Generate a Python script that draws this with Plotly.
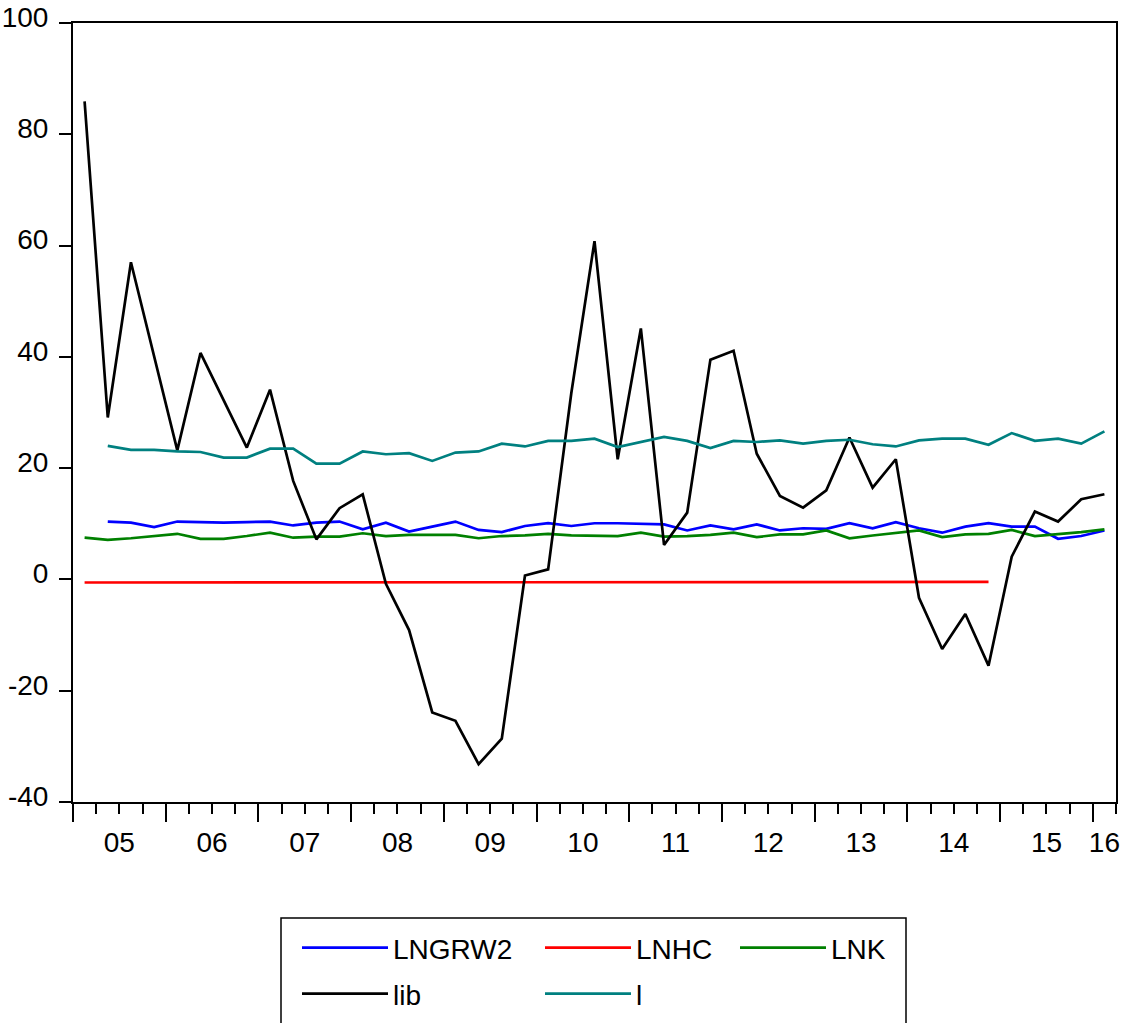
import plotly.graph_objects as go

# ---- data (quarterly, 2005Q1 .. 2016Q1) ----
years = [2005, 2006, 2007, 2008, 2009, 2010, 2011, 2012, 2013, 2014, 2015, 2016]
year_labels = ["05", "06", "07", "08", "09", "10", "11", "12", "13", "14", "15", "16"]
periods = [f"{y}Q{q}" for y in years for q in (1, 2, 3, 4)][:45]

lngrw2 = [None, 10.4, 10.2, 9.4, 10.4, 10.3, 10.2, 10.3, 10.4, 9.7, 10.2, 10.4, 9.0, 10.2, 8.6,
          9.5, 10.4, 8.9, 8.5, 9.6, 10.1, 9.6, 10.1, 10.1, 10.0, 9.9, 8.8, 9.7, 9.0, 9.9, 8.8,
          9.2, 9.1, 10.1, 9.2, 10.3, 9.2, 8.4, 9.5, 10.1, 9.5, 9.5, 7.3, 7.8, 8.8]
lnhc = [-0.55, -0.55, -0.55, -0.55, -0.55, -0.55, -0.55, -0.55, -0.55, -0.55, -0.55, -0.55,
        -0.55, -0.55, -0.5, -0.5, -0.5, -0.5, -0.5, -0.5, -0.5, -0.5, -0.5, -0.5, -0.5, -0.5,
        -0.5, -0.5, -0.5, -0.5, -0.5, -0.5, -0.5, -0.45, -0.45, -0.45, -0.45, -0.45, -0.45,
        -0.45, None, None, None, None, None]
lnk = [7.5, 7.1, 7.4, 7.8, 8.2, 7.3, 7.3, 7.8, 8.4, 7.5, 7.7, 7.7, 8.3, 7.8, 8.0, 8.0, 8.0,
       7.4, 7.8, 7.9, 8.2, 7.9, 7.9, 7.8, 8.4, 7.7, 7.8, 8.0, 8.4, 7.6, 8.1, 8.1, 8.8, 7.4,
       7.9, 8.4, 8.8, 7.6, 8.1, 8.2, 8.9, 7.8, 8.1, 8.5, 9.0]
lib = [85.9, 29.1, 57.0, 40.0, 23.2, 40.7, 32.2, 23.7, 34.1, 17.7, 7.2, 12.8, 15.3, -0.8,
       -9.1, -23.9, -25.4, -33.2, -28.6, 0.7, 1.8, 33.5, 60.8, 21.6, 45.1, 6.2, 12.0, 39.5,
       41.1, 22.6, 15.0, 12.9, 16.0, 25.5, 16.5, 21.6, -3.3, -12.5, -6.2, -15.5, 4.1, 12.2,
       10.4, 14.4, 15.3]
l_series = [None, 24.0, 23.3, 23.3, 23.0, 22.9, 21.9, 21.9, 23.5, 23.5, 20.8, 20.8, 23.0,
            22.5, 22.7, 21.3, 22.8, 23.0, 24.4, 23.9, 24.9, 24.9, 25.3, 23.8, 24.7, 25.6,
            24.9, 23.6, 24.9, 24.7, 25.0, 24.4, 24.9, 25.1, 24.3, 23.9, 25.0, 25.3, 25.3,
            24.2, 26.3, 24.9, 25.3, 24.4, 26.6]
y_ticks = [-40, -20, 0, 20, 40, 60, 80, 100]
y_tick_labels = ["-40", "-20", "0", "20", "40", "60", "80", "100"]

series = [
    ("LNGRW2", lngrw2, "#0000FF", "legend"),
    ("LNHC", lnhc, "#FF0000", "legend2"),
    ("LNK", lnk, "#008000", "legend3"),
    ("lib", lib, "#000000", "legend4"),
    ("l", l_series, "#008080", "legend5"),
]

# ---- positions derived from the period list ----
n = len(periods)
x = list(range(n))
q_bounds = [i - 0.5 for i in range(n + 1)]
year_bounds = [i - 0.5 for i, p in enumerate(periods) if p.endswith("Q1")]
label_pos = []
for yr in years:
    idx = [i for i, p in enumerate(periods) if p.startswith(str(yr))]
    label_pos.append((min(idx) + max(idx)) / 2)

FONT = "Liberation Sans, Arial"
FS = 28

fig = go.Figure()
for name, vals, color, lg in series:
    fig.add_trace(go.Scatter(x=x, y=vals, mode="lines", name=name,
                             line=dict(color=color, width=2.7), legend=lg,
                             connectgaps=False))
# invisible trace carrying the label axis
fig.add_trace(go.Scatter(x=[x[0], x[-1]], y=[None, None], xaxis="x2", showlegend=False,
                         hoverinfo="skip", mode="lines"))

W, H = 1131, 1023
ML, MR, MT, MB = 73, 15, 23, 221
pw, ph = W - ML - MR, H - MT - MB

def px_x(p):
    return (p - ML) / pw

def px_y(p):
    return (H - MB - p) / ph

legend_common = dict(bgcolor="rgba(0,0,0,0)", borderwidth=0, orientation="v",
                     xanchor="left", yanchor="middle", itemwidth=86,
                     font=dict(family=FONT, size=FS, color="black"), itemclick=False)
row1, row2 = 948, 994
col = [297, 540, 735]
layout_legends = {
    "legend": dict(x=px_x(col[0]), y=px_y(row1), **legend_common),
    "legend2": dict(x=px_x(col[1]), y=px_y(row1), **legend_common),
    "legend3": dict(x=px_x(col[2]), y=px_y(row1), **legend_common),
    "legend4": dict(x=px_x(col[0]), y=px_y(row2), **legend_common),
    "legend5": dict(x=px_x(col[1]), y=px_y(row2), **legend_common),
}

fig.update_layout(
    width=W, height=H,
    margin=dict(l=ML, r=MR, t=MT, b=MB, autoexpand=False),
    paper_bgcolor="white", plot_bgcolor="white",
    font=dict(family=FONT, size=FS, color="black"),
    showlegend=True,
    xaxis=dict(range=[-0.5, n - 0.5], showgrid=False, zeroline=False,
               showline=True, linecolor="black", linewidth=2, mirror=True,
               tickmode="array", tickvals=year_bounds, ticks="outside", ticklen=18,
               tickwidth=1.5, tickcolor="black", showticklabels=False,
               minor=dict(tickmode="array", tickvals=q_bounds, ticks="outside",
                          ticklen=10, tickwidth=1.5, tickcolor="black", showgrid=False)),
    xaxis2=dict(overlaying="x", matches="x", anchor="y", side="bottom",
                showgrid=False, zeroline=False, showline=False,
                tickmode="array", tickvals=label_pos, ticktext=year_labels,
                ticks="", ticklabelstandoff=21,
                tickfont=dict(family=FONT, size=FS, color="black")),
    yaxis=dict(range=[-40, 100], showgrid=False, zeroline=False,
               showline=True, linecolor="black", linewidth=2, mirror=True,
               tickmode="array", tickvals=y_ticks, ticktext=y_tick_labels,
               ticks="outside", ticklen=12,
               tickwidth=1.5, tickcolor="black", ticklabelstandoff=5,
               ticklabelshift=-6,
               tickfont=dict(family=FONT, size=FS, color="black")),
    shapes=[dict(type="rect", xref="paper", yref="paper",
                 x0=px_x(281), x1=px_x(906), y0=px_y(1040), y1=px_y(918),
                 line=dict(color="black", width=1.5), fillcolor="rgba(0,0,0,0)")],
    **layout_legends,
)

fig.write_html("out.html", config={"displayModeBar": False},
               post_script="document.body.style.margin='0px';")
